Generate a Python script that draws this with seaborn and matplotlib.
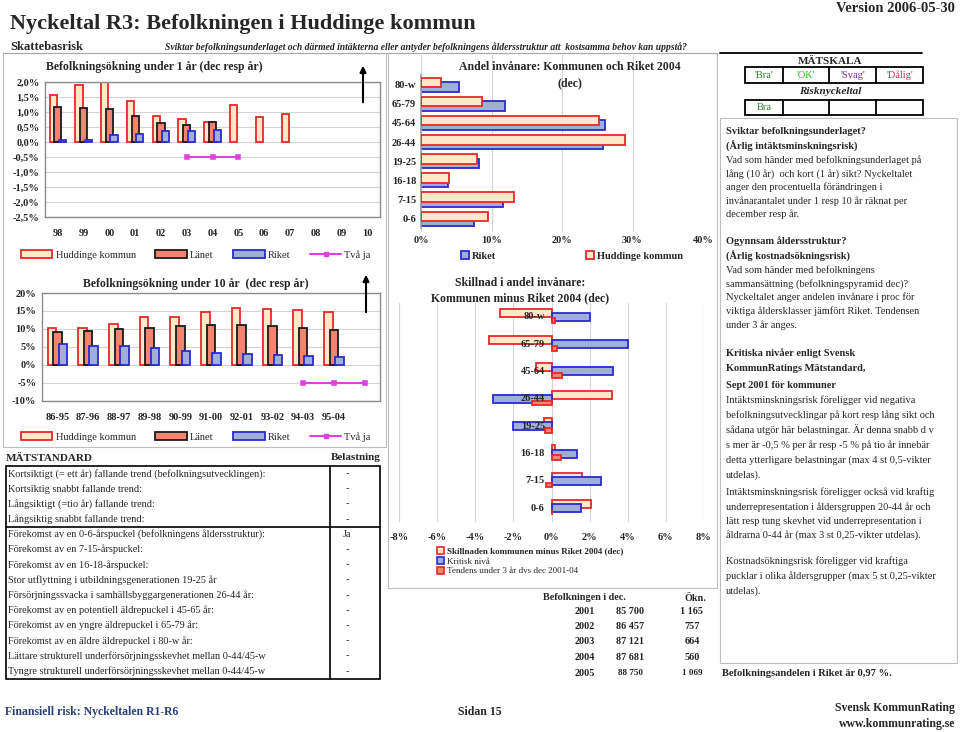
import numpy as np
import pandas as pd
import seaborn as sns
import matplotlib
matplotlib.use("Agg")
import matplotlib.pyplot as plt
from matplotlib.patches import Patch, Rectangle, FancyArrowPatch
from matplotlib.lines import Line2D
from matplotlib.ticker import FuncFormatter

# --- data ---
years_1 = ['98', '99', '00', '01', '02', '03', '04', '05', '06', '07', '08', '09', '10']
hud_1 = [1.55, 1.90, 2.02, 1.38, 0.88, 0.78, 0.65, 1.22, 0.82, 0.92]
lan_1 = [1.17, 1.12, 1.10, 0.85, 0.63, 0.57, 0.65]
rik_1 = [0.08, 0.07, 0.23, 0.28, 0.35, 0.38, 0.40]
tva_x_1 = ['03', '04', '05']
tva_1 = [-0.5, -0.5, -0.5]

periods_10 = ['86-95', '87-96', '88-97', '89-98', '90-99', '91-00', '92-01', '93-02', '94-03', '95-04', ' ']
hud_10 = [10.3, 10.3, 11.5, 13.2, 13.4, 14.6, 15.7, 15.6, 15.4, 14.8]
lan_10 = [9.3, 9.5, 9.9, 10.3, 10.7, 11.1, 11.1, 10.9, 10.4, 9.7]
rik_10 = [5.7, 5.4, 5.2, 4.7, 3.9, 3.3, 3.1, 2.9, 2.6, 2.1]
tva_x_10 = ['94-03', '95-04', ' ']
tva_10 = [-5, -5, -5]

ages = ['80-w', '65-79', '45-64', '26-44', '19-25', '16-18', '7-15', '0-6']
andel_hud = [2.8, 8.7, 25.3, 28.9, 7.9, 4.0, 13.2, 9.5]
andel_rik = [5.4, 11.9, 26.1, 25.8, 8.2, 3.9, 11.6, 7.5]

skillnad = [-2.7, -3.3, -0.8, 3.15, -0.4, 0.18, 1.6, 2.08]
kritisk = [2.0, 4.0, 3.2, -3.05, -2.0, 1.35, 2.6, 1.55]
tendens = [0.2, 0.28, 0.53, -1.04, -0.34, 0.5, -0.27, 0.03]

series_pop = ['Huddinge kommun', 'Länet', 'Riket']
series_diff = ['Skillnaden kommunen minus Riket 2004 (dec)', 'Kritisk nivå',
               'Tendens under 3 år dvs dec 2001-04']

criteria = [
    "Kortsiktigt (= ett år) fallande trend (befolkningsutvecklingen):",
    "Kortsiktig snabbt fallande trend:",
    "Långsiktigt (=tio år) fallande trend:",
    "Långsiktig snabbt fallande trend:",
    "Förekomst av en 0-6-årspuckel (befolkningens åldersstruktur):",
    "Förekomst av en 7-15-årspuckel:",
    "Förekomst av en 16-18-årspuckel:",
    "Stor utflyttning i utbildningsgenerationen 19-25 år",
    "Försörjningssvacka i samhällsbyggargenerationen 26-44 år:",
    "Förekomst av en potentiell äldrepuckel i 45-65 år:",
    "Förekomst av en yngre äldrepuckel i 65-79 år:",
    "Förekomst av en äldre äldrepuckel i 80-w år:",
    "Lättare strukturell underförsörjningsskevhet mellan 0-44/45-w",
    "Tyngre strukturell underförsörjningsskevhet mellan 0-44/45-w",
]
belastning = ['-', '-', '-', '-', 'Ja', '-', '-', '-', '-', '-', '-', '-', '-', '-']

pop_years = ['2001', '2002', '2003', '2004', '2005']
pop_dec = ['85 700', '86 457', '87 121', '87 681', '88 750']
pop_okn = ['1 165', '757', '664', '560', '1 069']

scale_labels = ["'Bra'", "'OK'", "'Svag'", "'Dålig'"]
scale_colors = ['#2E7D32', '#22C222', '#7A2A9A', '#C8304A']

# colours
HUD_F, HUD_E = '#FFE9C9', '#E8282A'
LAN_F, LAN_E = '#F4836F', '#1A1A1A'
RIK_F, RIK_E = '#9FB0D8', '#2A2ACF'
TVA = '#E040E0'
GRID = '#D4D4D4'

sns.set_theme(style="white")
plt.rcParams['font.family'] = ['Liberation Serif', 'DejaVu Serif']

W, H = 960, 732
fig = plt.figure(figsize=(9.6, 7.32), dpi=100)


def box(x0, y0, x1, y1):
    return [x0 / W, 1 - y1 / H, (x1 - x0) / W, (y1 - y0) / H]


def txt(x, y, s, **kw):
    kw.setdefault('va', 'center')
    kw.setdefault('fontsize', 7.5)
    fig.text(x / W, 1 - y / H, s, **kw)


def rect(x0, y0, x1, y1, ec='black', lw=1.0):
    fig.add_artist(Rectangle((x0 / W, 1 - y1 / H), (x1 - x0) / W, (y1 - y0) / H,
                             transform=fig.transFigure, fill=False, ec=ec, lw=lw))


def hline(x0, x1, y, c='black', lw=1.0):
    fig.add_artist(Line2D([x0 / W, x1 / W], [1 - y / H, 1 - y / H], transform=fig.transFigure, color=c, lw=lw))


def vline(x, y0, y1, c='black', lw=1.0):
    fig.add_artist(Line2D([x / W, x / W], [1 - y0 / H, 1 - y1 / H], transform=fig.transFigure, color=c, lw=lw))


def arrow(x, y0, y1):
    fig.add_artist(FancyArrowPatch((x / W, 1 - y0 / H), (x / W, 1 - y1 / H), transform=fig.transFigure,
                                   arrowstyle='-|>', mutation_scale=9, lw=1.5, color='black'))


def bold_ticks(ax, size=7.5):
    ax.tick_params(labelsize=size, length=0)
    for lab in ax.get_xticklabels() + ax.get_yticklabels():
        lab.set_fontweight('bold')


def pop_chart(ax, cats, hud, lan, rik, tva_x, tva, ylim, yticks, fmt):
    df = pd.DataFrame({
        'kat': cats[:len(hud)] + cats[:len(lan)] + cats[:len(rik)],
        'v': hud + lan + rik,
        'serie': ['Huddinge kommun'] * len(hud) + ['Länet'] * len(lan) + ['Riket'] * len(rik),
    })
    sns.barplot(data=df, x='kat', y='v', hue='serie', order=cats, hue_order=series_pop,
                palette=[HUD_F, LAN_F, RIK_F], saturation=1, width=0.54, gap=-0.55,
                errorbar=None, legend=False, ax=ax)
    for cont, ec in zip(ax.containers, [HUD_E, LAN_E, RIK_E]):
        for p in cont:
            p.set_edgecolor(ec)
            p.set_linewidth(1.3)
    sns.pointplot(x=tva_x, y=tva, order=cats, color=TVA, marker='s', markersize=2.5,
                  linewidth=1.5, errorbar=None, ax=ax)
    ax.set_xlim(-0.5, len(cats) - 0.5)
    ax.set_ylim(*ylim)
    ax.set_yticks(yticks)
    ax.yaxis.set_major_formatter(FuncFormatter(fmt))
    ax.yaxis.grid(True, color=GRID, lw=0.8)
    ax.set_axisbelow(True)
    ax.set_xlabel('')
    ax.set_ylabel('')
    for s in ax.spines.values():
        s.set_color('#8C8C8C')
        s.set_linewidth(1.0)
    bold_ticks(ax)
    ax.tick_params(axis='x', pad=9)
    ax.tick_params(axis='y', pad=4)


def pop_legend(ycenter):
    handles = [Patch(fc=HUD_F, ec=HUD_E, lw=1.3), Patch(fc=LAN_F, ec=LAN_E, lw=1.3),
               Patch(fc=RIK_F, ec=RIK_E, lw=1.3),
               Line2D([], [], color=TVA, marker='s', markersize=2.5, lw=1.5)]
    fig.legend(handles, series_pop + ['Två ja'], loc='center', bbox_to_anchor=(196 / W, 1 - ycenter / H),
               ncol=4, frameon=False, fontsize=7.5, handlelength=3.0, handleheight=0.8,
               columnspacing=1.9, handletextpad=0.3)


# ---------------- header ----------------
txt(10, 24, 'Nyckeltal R3: Befolkningen i Huddinge kommun', fontsize=16, fontweight='bold')
txt(955, 9, 'Version 2006-05-30', fontsize=10.5, fontweight='bold', ha='right')
txt(10, 47, 'Skattebasrisk', fontsize=9, fontweight='bold')
txt(165, 47, 'Sviktar befolkningsunderlaget och därmed intäkterna eller antyder befolkningens '
    'åldersstruktur att  kostsamma behov kan uppstå?', fontsize=6.9, fontweight='bold', style='italic')
hline(3, 717, 53, c='#A8A8A8', lw=0.8)
rect(3, 53, 386, 447, ec='#BEBEBE', lw=0.8)
rect(388, 53, 717, 588, ec='#BEBEBE', lw=0.8)

# ---------------- chart 1: 1 year ----------------
ax1 = fig.add_axes(box(45, 82, 380, 217))
pop_chart(ax1, years_1, hud_1, lan_1, rik_1, tva_x_1, tva_1, (-2.5, 2.0),
          np.arange(-2.5, 2.01, 0.5), lambda v, p: f"{v:.1f}%".replace('.', ','))
txt(46, 67, 'Befolkningsökning under 1 år (dec resp år)', fontsize=8.5, fontweight='bold')
arrow(363, 105, 63)
pop_legend(255)

# ---------------- chart 2: 10 years ----------------
ax2 = fig.add_axes(box(42, 293, 380, 401))
pop_chart(ax2, periods_10, hud_10, lan_10, rik_10, tva_x_10, tva_10, (-10, 20),
          np.arange(-10, 21, 5), lambda v, p: f"{v:.0f}%")
txt(196, 284, 'Befolkningsökning under 10 år  (dec resp år)', fontsize=8.5, fontweight='bold', ha='center')
arrow(366, 315, 272)
pop_legend(437)

# ---------------- chart 3: age shares ----------------
ax3 = fig.add_axes(box(421, 55, 703, 232))
df3 = pd.DataFrame({'ålder': ages * 2, 'andel': andel_hud + andel_rik,
                    'serie': ['Huddinge kommun'] * 8 + ['Riket'] * 8})
sns.barplot(data=df3, x='andel', y='ålder', hue='serie', order=ages, hue_order=['Huddinge kommun', 'Riket'],
            orient='h', palette=[HUD_F, RIK_F], saturation=1, width=0.48, gap=-1.08,
            errorbar=None, legend=False, ax=ax3)
for cont, ec, z in zip(ax3.containers, [HUD_E, RIK_E], [3, 2]):
    for p in cont:
        p.set_edgecolor(ec)
        p.set_linewidth(1.3)
        p.set_zorder(z)
ax3.set_xlim(0, 40)
ax3.set_ylim(7.7, -1.55)
ax3.set_xticks(np.arange(0, 41, 10))
ax3.xaxis.set_major_formatter(FuncFormatter(lambda v, p: f"{v:.0f}%"))
ax3.xaxis.grid(True, color=GRID, lw=0.8)
ax3.set_axisbelow(True)
ax3.set_xlabel('')
ax3.set_ylabel('')
for k, s in ax3.spines.items():
    s.set_visible(k == 'left')
ax3.spines['left'].set_color('#A0A0A0')
ax3.spines['left'].set_bounds(7.5, -0.5)
bold_ticks(ax3)
ax3.tick_params(axis='x', pad=3)
txt(570, 67, 'Andel invånare: Kommunen och Riket 2004', fontsize=8.5, fontweight='bold', ha='center')
txt(570, 83, '(dec)', fontsize=8.5, fontweight='bold', ha='center')
leg3 = fig.legend([Patch(fc=RIK_F, ec=RIK_E, lw=1.3), Patch(fc=HUD_F, ec=HUD_E, lw=1.3)],
                  ['Riket', 'Huddinge kommun'], loc='center', bbox_to_anchor=(572 / W, 1 - 256 / H),
                  ncol=2, frameon=False, fontsize=7.5, handlelength=0.8, handleheight=0.8,
                  columnspacing=8.6, handletextpad=0.3)
for t in leg3.get_texts():
    t.set_fontweight('bold')

# ---------------- chart 4: differences ----------------
ax4 = fig.add_axes(box(399, 303, 704, 522))
df4 = pd.DataFrame({'ålder': ages * 3, 'v': skillnad + kritisk + tendens,
                    'serie': [series_diff[0]] * 8 + [series_diff[1]] * 8 + [series_diff[2]] * 8})
sns.barplot(data=df4, x='v', y='ålder', hue='serie', order=ages, hue_order=series_diff,
            orient='h', palette=[HUD_F, RIK_F, LAN_F], saturation=1, width=0.45, gap=-0.95,
            errorbar=None, legend=False, ax=ax4)
for cont, ec in zip(ax4.containers, [HUD_E, RIK_E, HUD_E]):
    for p in cont:
        p.set_edgecolor(ec)
        p.set_linewidth(1.3)
for p in ax4.containers[2]:
    h = p.get_height()
    p.set_y(p.get_y() + 0.2 * h)
    p.set_height(0.6 * h)
ax4.set_xlim(-8, 8)
ax4.set_ylim(7.5, -0.5)
ax4.set_xticks(np.arange(-8, 9, 2))
ax4.xaxis.set_major_formatter(FuncFormatter(lambda v, p: f"{v:.0f}%"))
ax4.xaxis.grid(True, color=GRID, lw=0.8)
ax4.set_axisbelow(True)
ax4.set_xlabel('')
ax4.set_ylabel('')
for s in ax4.spines.values():
    s.set_visible(False)
bold_ticks(ax4)
ax4.tick_params(axis='x', pad=8)
ax4.tick_params(labelleft=False)
for i, a in enumerate(ages):
    ax4.text(-0.35, i, a, ha='right', va='center', fontsize=7.5, fontweight='bold', zorder=6)
txt(520, 283, 'Skillnad i andel invånare:', fontsize=8.5, fontweight='bold', ha='center')
txt(520, 298, 'Kommunen minus Riket 2004 (dec)', fontsize=8.5, fontweight='bold', ha='center')
leg4 = fig.legend([Patch(fc=HUD_F, ec=HUD_E, lw=1.2), Patch(fc=RIK_F, ec=RIK_E, lw=1.2),
                   Patch(fc=LAN_F, ec=HUD_E, lw=1.2)], series_diff,
                  loc='upper left', bbox_to_anchor=(437 / W, 1 - 547 / H), ncol=1, frameon=False,
                  fontsize=6.5, handlelength=0.8, handleheight=0.8, handletextpad=0.3,
                  labelspacing=0.15, borderpad=0, borderaxespad=0)
leg4.get_texts()[0].set_fontweight('bold')

# ---------------- MÄTSTANDARD table ----------------
txt(6, 458, 'MÄTSTANDARD', fontsize=8, fontweight='bold')
txt(381, 458, 'Belastning', fontsize=8, fontweight='bold', ha='right')
top, step = 466, 15.2
rect(6, top, 380, top + step * len(criteria), lw=1.2)
vline(330, top, top + step * len(criteria), lw=1.2)
hline(6, 380, top + step * 4, lw=1.2)
for i, (c, b) in enumerate(zip(criteria, belastning)):
    yc = top + step * (i + 0.5)
    txt(8, yc, c, fontsize=7.4)
    txt(347, yc, b, fontsize=7.4, ha='center')

# ---------------- population table ----------------
txt(543, 598, 'Befolkningen i dec.', fontsize=7.3, fontweight='bold')
txt(706, 598, 'Ökn.', fontsize=7.3, fontweight='bold', ha='right')
for i, (yr, p, o) in enumerate(zip(pop_years, pop_dec, pop_okn)):
    yc = 611 + 15.5 * i
    fs = 6.6 if i == 4 else 7.3
    txt(585, yc, yr, fontsize=7.3, fontweight='bold', ha='center')
    txt(630, yc, p, fontsize=fs, fontweight='bold', ha='center')
    txt(692, yc, o, fontsize=fs, fontweight='bold', ha='center')

# ---------------- right panel ----------------
hline(720, 922, 53, lw=1.3)
txt(830, 61, 'MÄTSKALA', fontsize=8, fontweight='bold', ha='center')
cells = [745, 783, 829, 876, 923]
rect(745, 67, 923, 83, lw=1.3)
rect(745, 100, 923, 115, lw=1.3)
for x in cells[1:-1]:
    vline(x, 67, 83, lw=1.3)
    vline(x, 100, 115, lw=1.3)
for i, (lab, col) in enumerate(zip(scale_labels, scale_colors)):
    txt((cells[i] + cells[i + 1]) / 2, 75, lab, fontsize=7.5, color=col, ha='center')
txt(830, 92, 'Risknyckeltal', fontsize=8, fontweight='bold', style='italic', ha='center')
txt((cells[0] + cells[1]) / 2, 108, 'Bra', fontsize=7.5, color=scale_colors[0], ha='center')
rect(720, 118, 957, 663, ec='#BEBEBE', lw=0.8)

right_text = [
    (131, 'Sviktar befolkningsunderlaget?', True),
    (146, '(Årlig intäktsminskningsrisk)', True),
    (160, 'Vad som händer med befolkningsunderlaget på', False),
    (174, 'lång (10 år)  och kort (1 år) sikt? Nyckeltalet', False),
    (187, 'anger den procentuella förändringen i', False),
    (201, 'invånarantalet under 1 resp 10 år räknat per', False),
    (214, 'december resp år.', False),
    (241, 'Ogynnsam åldersstruktur?', True),
    (256, '(Årlig kostnadsökningsrisk)', True),
    (270, 'Vad som händer med befolkningens', False),
    (284, 'sammansättning (befolkningspyramid dec)?', False),
    (297, 'Nyckeltalet anger andelen invånare i proc för', False),
    (311, 'viktiga åldersklasser jämfört Riket. Tendensen', False),
    (325, 'under 3 år anges.', False),
    (353, 'Kritiska nivåer enligt Svensk', True),
    (369, 'KommunRatings Mätstandard,', True),
    (385, 'Sept 2001 för kommuner', True),
    (400, 'Intäktsminskningsrisk föreligger vid negativa', False),
    (415, 'befolkningsutvecklingar på kort resp lång sikt och', False),
    (430, 'sådana utgör här belastningar. Är denna snabb d v', False),
    (445, 's mer är -0,5 % per år resp -5 % på tio år innebär', False),
    (460, 'detta ytterligare belastningar (max 4 st 0,5-vikter', False),
    (475, 'utdelas).', False),
    (492, 'Intäktsminskningsrisk föreligger också vid kraftig', False),
    (507, 'underrepresentation i åldersgruppen 20-44 år och', False),
    (521, 'lätt resp tung skevhet vid underrepresentation i', False),
    (535, 'åldrarna 0-44 år (max 3 st 0,25-vikter utdelas).', False),
    (561, 'Kostnadsökningsrisk föreligger vid kraftiga', False),
    (576, 'pucklar i olika åldersgrupper (max 5 st 0,25-vikter', False),
    (591, 'utdelas).', False),
]
for y, s, b in right_text:
    txt(726, y, s, fontsize=7.5, fontweight='bold' if b else 'normal')
txt(722, 673, 'Befolkningsandelen i Riket är 0,97 %.', fontsize=7.6, fontweight='bold')

# ---------------- footer ----------------
txt(5, 712, 'Finansiell risk: Nyckeltalen R1-R6', fontsize=8.5, fontweight='bold', color='#2B3F7A')
txt(480, 712, 'Sidan 15', fontsize=8.5, fontweight='bold', ha='center')
txt(955, 708, 'Svensk KommunRating', fontsize=8.5, fontweight='bold', ha='right')
txt(955, 724, 'www.kommunrating.se', fontsize=8.5, fontweight='bold', ha='right')

fig.savefig('out.png', dpi=100)
